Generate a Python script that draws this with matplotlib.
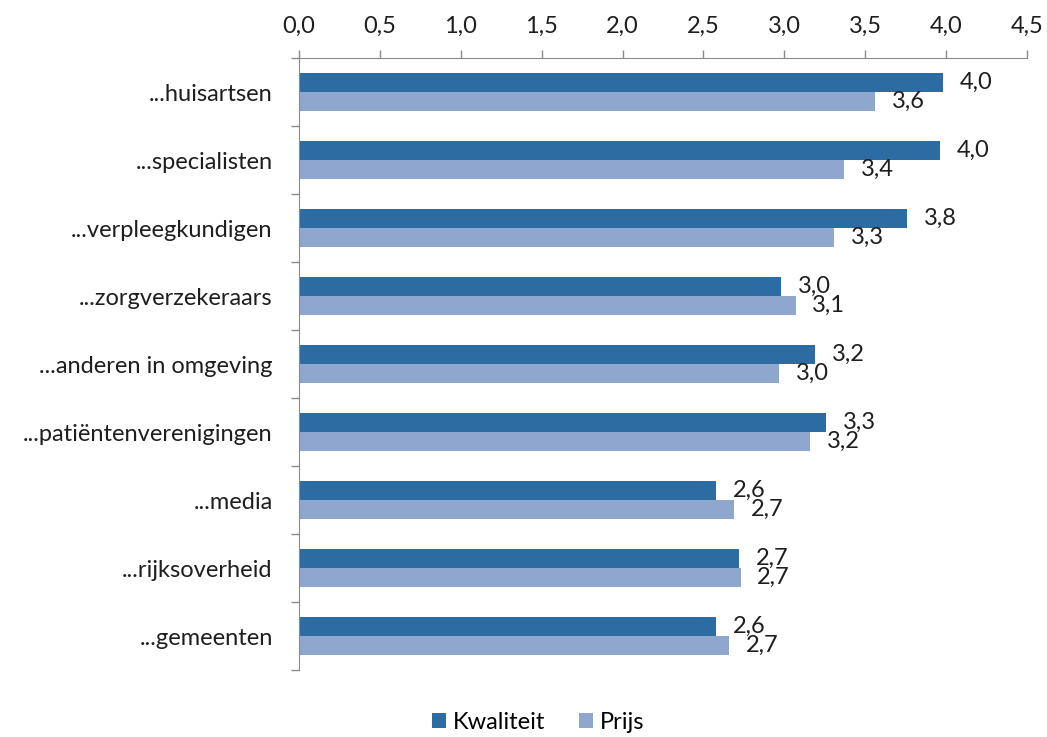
import numpy as np
import matplotlib
matplotlib.use("Agg")
import matplotlib.pyplot as plt

plt.rcParams['font.family'] = ['Lato', 'DejaVu Sans']

categories = ["...huisartsen", "...specialisten", "...verpleegkundigen", "...zorgverzekeraars",
	"...anderen in omgeving", "...patiëntenverenigingen", "...media", "...rijksoverheid", "...gemeenten"]
kwaliteit = [3.98, 3.96, 3.76, 2.98, 3.19, 3.26, 2.58, 2.72, 2.58]
prijs = [3.56, 3.37, 3.31, 3.07, 2.97, 3.16, 2.69, 2.73, 2.66]
series_names = ["Kwaliteit", "Prijs"]
xticks = [0, 0.5, 1.0, 1.5, 2.0, 2.5, 3.0, 3.5, 4.0, 4.5]

dark = "#2D6CA3"
light = "#8FA7CF"
axis_grey = "#8A8A8A"
txt = "#1E1E1E"
fs = 17

def comma(v):
	return ("%.1f" % v).replace(".", ",")

fig = plt.figure(figsize=(10.47, 7.37), dpi=100)
ax = fig.add_axes([0.2856, 0.0909, 0.6953, 0.8304])

y = np.arange(len(categories))
h = 0.28
b1 = ax.barh(y - h / 2, kwaliteit, height=h, color=dark, label=series_names[0])
b2 = ax.barh(y + h / 2, prijs, height=h, color=light, label=series_names[1])

for bars, vals in [(b1, kwaliteit), (b2, prijs)]:
	for bar, v in zip(bars, vals):
		ax.annotate(comma(v), (v, bar.get_y() + bar.get_height() / 2), xytext=(12, 0),
			textcoords="offset points", ha="left", va="center", fontsize=fs, color=txt)

ax.set_xlim(0, 4.5)
ax.set_ylim(len(categories) - 0.5, -0.5)

ax.xaxis.tick_top()
ax.set_xticks(xticks)
ax.set_xticklabels([comma(t) for t in xticks], fontsize=fs, color=txt)
ax.tick_params(axis="x", which="major", length=6, width=1, color=axis_grey, pad=9)

ax.set_yticks(y)
ax.set_yticklabels(categories, fontsize=fs, color=txt)
ax.set_yticks(np.arange(len(categories) + 1) - 0.5, minor=True)
ax.tick_params(axis="y", which="major", length=0, pad=19)
ax.tick_params(axis="y", which="minor", length=6, width=1, color=axis_grey)

ax.spines["right"].set_visible(False)
ax.spines["bottom"].set_visible(False)
ax.spines["top"].set_color(axis_grey)
ax.spines["left"].set_color(axis_grey)

fig.legend(handles=[b1, b2], loc="center", bbox_to_anchor=(0.514, 0.02), ncol=2, frameon=False,
	fontsize=fs, handlelength=0.6, handleheight=0.6, handletextpad=0.3, columnspacing=1.4)

fig.savefig("out.png", dpi=100)
